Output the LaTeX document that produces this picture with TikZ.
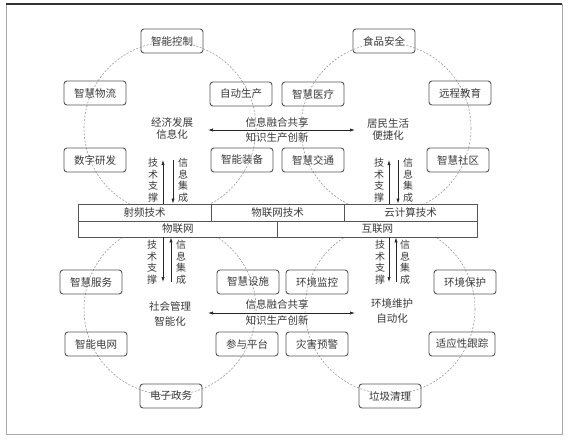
\documentclass[tikz,border=0pt]{standalone}
\usepackage{fontspec}
\setmainfont{Noto Sans CJK SC}
\usepackage{xcolor}
\usetikzlibrary{arrows.meta, positioning}
\definecolor{boxgray}{HTML}{555555}
\definecolor{txtgray}{HTML}{3A3A3A}
\definecolor{ringgray}{HTML}{9A9A9A}
\definecolor{framegray}{HTML}{A8A8A8}

\begin{document}
\begin{tikzpicture}[x=1pt, y=-1pt,
    font=\fontsize{10.5}{12}\selectfont, text=txtgray,
    box/.style={rectangle, draw=boxgray, rounded corners=3pt, line width=0.9pt, minimum width=62pt, minimum height=24pt, inner sep=0pt},
    cell/.style={rectangle, draw=boxgray, fill=white, line width=0.8pt, inner sep=0pt},
    ring/.style={draw=ringgray, line width=0.6pt, dash pattern=on 2pt off 1.6pt},
    vtext/.style={align=center, inner sep=0pt, font=\fontsize{10}{11.5}\selectfont},
    ctext/.style={align=center, inner sep=0pt},
    arrow/.style={-{Latex[length=5pt, width=3.2pt]}, line width=0.7pt, draw=black!85},
    biarrow/.style={{Latex[length=5pt, width=3.2pt]}-{Latex[length=5pt, width=3.2pt]}, line width=0.7pt, draw=black!85}
]
    \useasboundingbox (0,0) rectangle (572,441);
    % frame
    \draw[framegray, line width=1pt] (6,4) -- (6,434) -- (562,434) -- (562,4);
    \draw[black!80, line width=2pt] (6,4) -- (562,4);

    % dashed rings
    \draw[ring] (170,128) circle (86);
    \draw[ring] (386,128) circle (85);
    \draw[ring] (170,309) circle (86);
    \draw[ring] (390,309) circle (85);

    % technology bar
    \node[cell, minimum width=133pt, minimum height=17pt] (rf) at (144.5,212.5) {射频技术};
    \node[cell, minimum width=133pt, minimum height=17pt] (iott) at (277.5,212.5) {物联网技术};
    \node[cell, minimum width=133pt, minimum height=17pt] (cloud) at (410.5,212.5) {云计算技术};
    \node[cell, minimum width=199.5pt, minimum height=16pt] (iot) at (177.75,229) {物联网};
    \node[cell, minimum width=199.5pt, minimum height=16pt] (inet) at (377.25,229) {互联网};

    % upper left: economy
    \node[box] (ctrl) at (172,41) {智能控制};
    \node[box] (logi) at (95,93) {智慧物流};
    \node[box] (prod) at (241,94) {自动生产};
    \node[box] (rnd) at (95,160) {数字研发};
    \node[box] (equip) at (242,160) {智能装备};
    \node[ctext] (econ) at (172,129) {经济发展\\信息化};

    % upper right: life
    \node[box] (food) at (384,41) {食品安全};
    \node[box] (med) at (313,94) {智慧医疗};
    \node[box] (edu) at (460,93) {远程教育};
    \node[box] (traf) at (313,160) {智慧交通};
    \node[box] (comm) at (458,160) {智慧社区};
    \node[ctext] (life) at (388,130) {居民生活\\便捷化};

    % lower left: society
    \node[box] (serv) at (91,282) {智慧服务};
    \node[box] (fac) at (248,282) {智慧设施};
    \node[box] (grid) at (96,344) {智能电网};
    \node[box] (plat) at (247,344) {参与平台};
    \node[box] (gov) at (171,396) {电子政务};
    \node[ctext, font=\fontsize{10.5}{15.5}\selectfont] (soc) at (170,314) {社会管理\\智能化};

    % lower right: environment
    \node[box] (mon) at (317,282) {环境监控};
    \node[box] (prot) at (465,282) {环境保护};
    \node[box] (warn) at (317,344) {灾害预警};
    \node[box, minimum width=66pt] (track) at (462,344) {适应性跟踪};
    \node[box] (trash) at (390,396) {垃圾清理};
    \node[ctext, font=\fontsize{10.5}{15.5}\selectfont] (env) at (392,311) {环境维护\\自动化};

    % horizontal links
    \coordinate (ul-e) at (208,130);
    \coordinate (ur-w) at (355,130);
    \coordinate (ll-e) at (208,313);
    \coordinate (lr-w) at (355,313);
    \draw[biarrow] (ul-e) -- (ur-w);
    \draw[biarrow] (ll-e) -- (lr-w);
    \node (share-u) at (277,122) {信息融合共享};
    \node (know-u) at (277,138) {知识生产创新};
    \node (share-l) at (277,304) {信息融合共享};
    \node (know-l) at (277,321) {知识生产创新};

    % vertical links, upper
    \coordinate (ul-up) at (163,160);
    \coordinate (ul-dn) at (173,160);
    \coordinate (ur-up) at (389,160);
    \coordinate (ur-dn) at (398,160);
    \draw[arrow] (ul-up |- rf.north) -- (ul-up);
    \draw[arrow] (ul-dn) -- (ul-dn |- rf.north);
    \draw[arrow] (ur-up |- cloud.north) -- (ur-up);
    \draw[arrow] (ur-dn) -- (ur-dn |- cloud.north);
    \node[vtext] (sup-ul) at (153,180) {技\\术\\支\\撑};
    \node[vtext] (int-ul) at (183,180) {信\\息\\集\\成};
    \node[vtext] (sup-ur) at (379,180) {技\\术\\支\\撑};
    \node[vtext] (int-ur) at (408,180) {信\\息\\集\\成};

    % vertical links, lower
    \coordinate (ll-dn) at (163,282);
    \coordinate (ll-up) at (171,282);
    \coordinate (lr-dn) at (389,282);
    \coordinate (lr-up) at (396,282);
    \draw[arrow] (ll-dn |- iot.south) -- (ll-dn);
    \draw[arrow] (ll-up) -- (ll-up |- iot.south);
    \draw[arrow] (lr-dn |- inet.south) -- (lr-dn);
    \draw[arrow] (lr-up) -- (lr-up |- inet.south);
    \node[vtext] (sup-ll) at (152,262) {技\\术\\支\\撑};
    \node[vtext] (int-ll) at (181,262) {信\\息\\集\\成};
    \node[vtext] (sup-lr) at (380,262) {技\\术\\支\\撑};
    \node[vtext] (int-lr) at (405,262) {信\\息\\集\\成};
\end{tikzpicture}
\end{document}
